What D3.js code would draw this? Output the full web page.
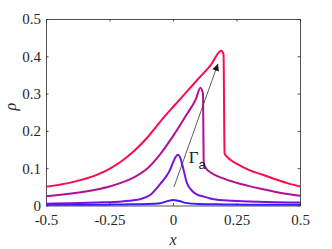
<!DOCTYPE html>
<html>
<head>
<meta charset="utf-8">
<script src="https://cdn.jsdelivr.net/npm/d3@7"></script>
<style>
  body { margin: 0; background: #fff; }
</style>
</head>
<body>
<div class="chart"></div>
<script>
// tick values / labels
const xTicks = [-0.5, -0.25, 0, 0.25, 0.5];
const xTickLabels = ['-0.5', '-0.25', '0', '0.25', '0.5'];
const yTicks = [0, 0.1, 0.2, 0.3, 0.4, 0.5];
const yTickLabels = ['0', '0.1', '0.2', '0.3', '0.4', '0.5'];

// curves, from smallest to largest Gamma_a
const xBlue = [-0.5, -0.3, -0.2, -0.1, -0.05, -0.025, 0, 0.025, 0.05, 0.1, 0.2, 0.35, 0.5];
const rhoBlue = [0.002, 0.002, 0.003, 0.004, 0.006, 0.011, 0.015, 0.012, 0.007, 0.004, 0.003, 0.002, 0.002];

const xPurple = [-0.5, -0.4, -0.3, -0.2, -0.13, -0.09, -0.05, -0.03, -0.012, 0, 0.01, 0.02, 0.03, 0.04, 0.054, 0.07, 0.093, 0.12, 0.146, 0.2, 0.3, 0.4, 0.5];
const rhoPurple = [0.005, 0.006, 0.008, 0.011, 0.017, 0.028, 0.058, 0.075, 0.095, 0.115, 0.13, 0.136, 0.125, 0.1, 0.062, 0.043, 0.03, 0.024, 0.019, 0.014, 0.011, 0.009, 0.008];

const xMagenta = [-0.5, -0.4, -0.3, -0.25, -0.2, -0.15, -0.1, -0.05, 0, 0.05, 0.09, 0.108, 0.118, 0.121, 0.13, 0.15, 0.2, 0.25, 0.3, 0.35, 0.4, 0.45, 0.5];
const rhoMagenta = [0.025, 0.032, 0.043, 0.051, 0.062, 0.077, 0.1, 0.138, 0.186, 0.24, 0.285, 0.316, 0.3, 0.115, 0.1, 0.088, 0.072, 0.061, 0.052, 0.044, 0.037, 0.031, 0.026];

const xRed = [-0.5, -0.4, -0.3, -0.25, -0.2, -0.15, -0.1, -0.05, 0, 0.05, 0.1, 0.15, 0.19, 0.199, 0.203, 0.22, 0.25, 0.3, 0.35, 0.4, 0.45, 0.5];
const rhoRed = [0.05, 0.062, 0.082, 0.098, 0.12, 0.148, 0.183, 0.225, 0.264, 0.302, 0.34, 0.378, 0.415, 0.405, 0.14, 0.126, 0.112, 0.095, 0.083, 0.071, 0.06, 0.051];

const arrowFrom = [0.004, 0.05];
const arrowTo = [0.177, 0.38];
const labelAt = [0.062, 0.113];

const w = 332;
const h = 249;
const margin = { top: 19, right: 32, bottom: 43.5, left: 46 };
const serif = "'Times New Roman', Times, 'Liberation Serif', 'DejaVu Serif', 'Noto Serif', serif";

const svg = d3.select('.chart')
  .append('svg')
  .attr('width', w)
  .attr('height', h)
  .style('display', 'block');

const x = d3.scaleLinear().domain([-0.5, 0.5]).range([margin.left, w - margin.right]);
const y = d3.scaleLinear().domain([0, 0.5]).range([h - margin.bottom, margin.top]);

const tick = 2.5;

svg.append('g')
  .attr('transform', `translate(0,${y(0)})`)
  .call(d3.axisBottom(x).tickValues(xTicks).tickFormat((d, i) => xTickLabels[i]).tickSizeInner(-tick).tickSizeOuter(0).tickPadding(9));
svg.append('g')
  .attr('transform', `translate(0,${y(0.5)})`)
  .call(d3.axisTop(x).tickValues(xTicks).tickFormat('').tickSizeInner(-tick).tickSizeOuter(0));
svg.append('g')
  .attr('transform', `translate(${x(-0.5)},0)`)
  .call(d3.axisLeft(y).tickValues(yTicks).tickFormat((d, i) => yTickLabels[i]).tickSizeInner(-tick).tickSizeOuter(0).tickPadding(5));
svg.append('g')
  .attr('transform', `translate(${x(0.5)},0)`)
  .call(d3.axisRight(y).tickValues(yTicks).tickFormat('').tickSizeInner(-tick).tickSizeOuter(0));

svg.selectAll('g').attr('font-family', null);
svg.selectAll('.tick text')
  .style('font-family', serif)
  .style('font-size', '15px')
  .attr('fill', '#262626');
svg.selectAll('.domain, .tick line').attr('stroke', '#262626').attr('stroke-width', 0.8);

const curves = [
  { xs: xBlue, ys: rhoBlue, color: '#3a1cff' },
  { xs: xPurple, ys: rhoPurple, color: '#7a12dc' },
  { xs: xMagenta, ys: rhoMagenta, color: '#b0128f' },
  { xs: xRed, ys: rhoRed, color: '#ff0a4e' }
];

const line = d3.line()
  .x(d => x(d[0]))
  .y(d => y(d[1]))
  .curve(d3.curveMonotoneX);

svg.append('g')
  .selectAll('path')
  .data(curves)
  .enter()
  .append('path')
  .attr('fill', 'none')
  .attr('stroke', d => d.color)
  .attr('stroke-width', 2)
  .attr('stroke-linejoin', 'round')
  .attr('d', d => line(d.xs.map((v, i) => [v, d.ys[i]])));

// arrow
svg.append('defs')
  .append('marker')
  .attr('id', 'head')
  .attr('viewBox', '0 0 10 10')
  .attr('refX', 10)
  .attr('refY', 5)
  .attr('markerWidth', 9)
  .attr('markerHeight', 7)
  .attr('markerUnits', 'userSpaceOnUse')
  .attr('orient', 'auto')
  .append('path')
  .attr('d', 'M0,0L10,5L0,10z')
  .attr('fill', '#1a1a1a');

svg.append('line')
  .attr('x1', x(arrowFrom[0]))
  .attr('y1', y(arrowFrom[1]))
  .attr('x2', x(arrowTo[0]))
  .attr('y2', y(arrowTo[1]))
  .attr('stroke', '#333')
  .attr('stroke-width', 0.8)
  .attr('marker-end', 'url(#head)');

const lbl = svg.append('text')
  .attr('x', x(labelAt[0]))
  .attr('y', y(labelAt[1]))
  .attr('fill', '#1a1a1a');
lbl.append('tspan')
  .style('font-family', serif)
  .style('font-size', '17px')
  .text('Γ');
lbl.append('tspan')
  .style('font-family', "'Liberation Sans', Arial, sans-serif")
  .style('font-size', '13px')
  .attr('dy', 6)
  .text('a');

// axis titles
svg.append('text')
  .attr('x', x(0))
  .attr('y', 245)
  .attr('text-anchor', 'middle')
  .style('font-family', serif)
  .style('font-style', 'italic')
  .style('font-size', '16px')
  .attr('fill', '#262626')
  .text('x');

svg.append('text')
  .attr('transform', `translate(16,${y(0.265)}) rotate(-90)`)
  .attr('text-anchor', 'middle')
  .style('font-family', serif)
  .style('font-style', 'italic')
  .style('font-size', '16px')
  .attr('fill', '#262626')
  .text('ρ');
</script>
</body>
</html>
